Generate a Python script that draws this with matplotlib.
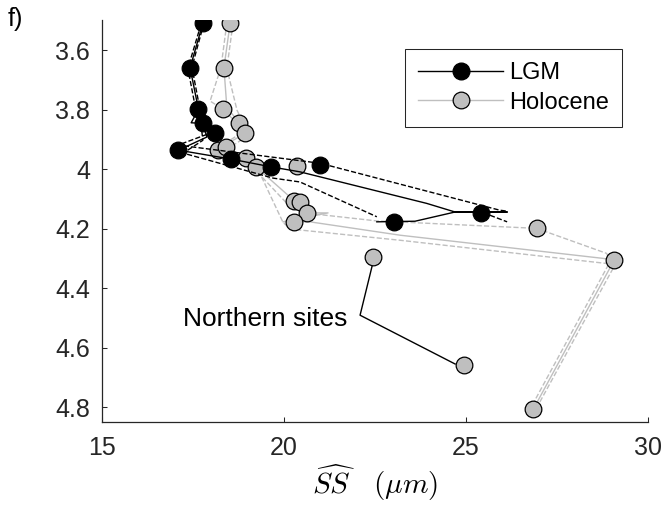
import matplotlib
matplotlib.use("Agg")
import matplotlib.pyplot as plt
from matplotlib.lines import Line2D

plt.rcParams['font.family'] = ['Liberation Sans', 'DejaVu Sans']
plt.rcParams['mathtext.fontset'] = 'cm'

### site values: grain size SS (um) vs depth (km)
lgm_ss = [17.77, 17.42, 17.65, 17.77, 18.10, 17.10, 18.54, 19.63, 20.99, 23.02, 25.40]
lgm_depth = [3.510, 3.659, 3.799, 3.846, 3.880, 3.936, 3.966, 3.992, 3.987, 4.177, 4.147]

hol_ss = [18.52, 18.35, 18.33, 18.77, 18.93, 18.20, 18.41, 18.96, 19.23, 20.35,
          20.27, 20.44, 20.63, 20.27, 22.45, 26.96, 29.07, 24.95, 26.85]
hol_depth = [3.510, 3.659, 3.799, 3.844, 3.880, 3.936, 3.927, 3.963, 3.992, 3.989,
             4.106, 4.109, 4.147, 4.178, 4.295, 4.198, 4.306, 4.659, 4.807]

### depth profiles (mean and bounds)
lgm_mid_ss = [17.77, 17.42, 17.65, 17.45, 17.77, 17.88, 17.10, 18.54, 19.64, 20.44,
              23.92, 24.70, 26.13, 24.70, 23.60, 22.55]
lgm_mid_depth = [3.510, 3.659, 3.799, 3.844, 3.846, 3.892, 3.936, 3.966, 3.992, 4.009,
                 4.115, 4.144, 4.144, 4.144, 4.175, 4.177]
lgm_hi_ss = [17.80, 17.47, 17.69, 17.83, 17.97, 17.09, 20.99, 25.93, 26.13]
lgm_hi_depth = [3.509, 3.657, 3.798, 3.845, 3.879, 3.919, 3.980, 4.138, 4.141]
lgm_lo_ss = [17.72, 17.36, 17.58, 17.72, 17.77, 17.23, 19.70, 20.44, 22.55]
lgm_lo_depth = [3.513, 3.661, 3.802, 3.847, 3.903, 3.946, 4.030, 4.043, 4.160]
lgm_lo2_ss = [25.66, 26.13]
lgm_lo2_depth = [4.155, 4.177]

hol_mid_ss = [18.52, 18.35, 18.43, 18.77, 18.93, 18.60, 18.20, 18.96, 19.23, 20.16,
              20.44, 20.63, 21.21, 19.97, 20.71, 23.19, 28.77, 29.07, 26.85]
hol_mid_depth = [3.510, 3.659, 3.792, 3.844, 3.880, 3.903, 3.936, 3.963, 3.992, 4.093,
                 4.109, 4.147, 4.147, 4.177, 4.177, 4.222, 4.300, 4.306, 4.807]
hol_hi_ss = [18.43, 18.27, 17.97, 18.32, 18.68, 18.82, 18.38, 18.10, 18.87, 19.15,
             19.40, 20.08, 20.71, 22.55, 26.94, 28.86, 28.98, 26.76]
hol_hi_depth = [3.509, 3.657, 3.771, 3.798, 3.842, 3.879, 3.913, 3.936, 3.963, 3.993,
                4.027, 4.115, 4.149, 4.174, 4.199, 4.283, 4.306, 4.807]
hol_lo_ss = [18.60, 18.43, 18.71, 18.87, 19.07, 18.74, 18.30, 19.04, 19.31, 19.40,
             19.97, 20.16, 23.19, 28.86, 29.15, 26.92]
hol_lo_depth = [3.509, 3.661, 3.802, 3.842, 3.879, 3.909, 3.943, 3.970, 3.997, 4.030,
                4.178, 4.201, 4.239, 4.317, 4.309, 4.807]

yticks = [3.6, 3.8, 4.0, 4.2, 4.4, 4.6, 4.8]
ytick_labels = ['3.6', '3.8', '4', '4.2', '4.4', '4.6', '4.8']
xticks = [15, 20, 25, 30]

grey = '#bfbfbf'
axcol = '#262626'

fig = plt.figure(figsize=(6.64, 5.07), dpi=100)
ax = fig.add_axes([0.1536, 0.1677, 0.8223, 0.7919])

### Holocene
ax.plot(hol_hi_ss, hol_hi_depth, '--', color=grey, lw=1.0)
ax.plot(hol_lo_ss, hol_lo_depth, '--', color=grey, lw=1.0)
ax.plot(hol_mid_ss, hol_mid_depth, '-', color=grey, lw=1.0)
ax.plot(hol_ss, hol_depth, 'o', ms=12, mfc=grey, mec='k', mew=0.9, zorder=3)

### LGM
ax.plot(lgm_hi_ss, lgm_hi_depth, '--', color='k', lw=1.0, zorder=4)
ax.plot(lgm_lo_ss, lgm_lo_depth, '--', color='k', lw=1.0, zorder=4)
ax.plot(lgm_lo2_ss, lgm_lo2_depth, '--', color='k', lw=1.0, zorder=4)
ax.plot(lgm_mid_ss, lgm_mid_depth, '-', color='k', lw=1.0, zorder=4)
ax.plot(lgm_ss, lgm_depth, 'o', ms=12, mfc='k', mec='k', mew=0.9, zorder=5)

### northern sites callout
ax.plot([22.42, 22.09, 24.70], [4.326, 4.491, 4.655], '-', color='k', lw=1.0, zorder=4)
ax.text(21.75, 4.505, 'Northern sites', ha='right', va='center', fontsize=19)

ax.set_xlim(15, 30)
ax.set_ylim(4.85, 3.5)
ax.set_xticks(xticks)
ax.set_yticks(yticks)
ax.set_yticklabels(ytick_labels)
ax.tick_params(direction='in', length=3.6, width=0.75, color=axcol,
               labelsize=18, labelcolor=axcol)
ax.tick_params(axis='y', pad=8.5)
ax.tick_params(axis='x', pad=10)
for s in ['top', 'right']:
    ax.spines[s].set_visible(False)
for s in ['left', 'bottom']:
    ax.spines[s].set_color(axcol)
    ax.spines[s].set_linewidth(0.9)

ax.set_xlabel(r'$\widehat{SS}\quad(\mu m)$', fontsize=21, labelpad=2)

h_lgm = Line2D([], [], color='k', lw=1.0, marker='o', ms=12, mfc='k', mec='k')
h_hol = Line2D([], [], color=grey, lw=1.0, marker='o', ms=12, mfc=grey, mec='k', mew=0.9)
leg = ax.legend([h_lgm, h_hol], ['LGM', 'Holocene'], loc='upper left',
                bbox_to_anchor=(0.555, 0.929), borderaxespad=0, fontsize=17,
                handlelength=3.6, handletextpad=0.25, labelspacing=0.32,
                borderpad=0.55, fancybox=False, framealpha=1)
leg.get_frame().set_edgecolor(axcol)
leg.get_frame().set_linewidth(0.75)

fig.text(0.012, 0.962, 'f)', fontsize=18, ha='left', va='center')

fig.savefig('out.png', dpi=100)
